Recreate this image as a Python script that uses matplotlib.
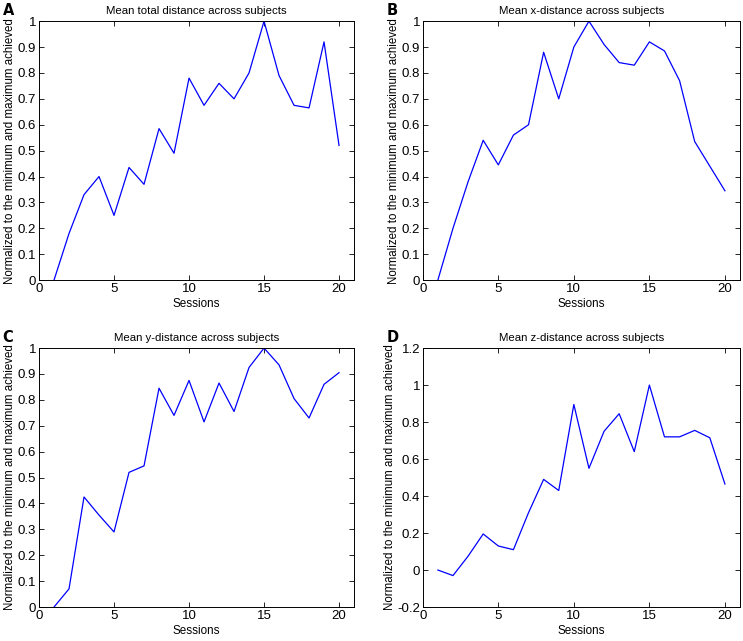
import matplotlib
matplotlib.use("Agg")
import matplotlib.pyplot as plt
import numpy

plt.rcParams['font.family'] = ['Liberation Sans', 'DejaVu Sans']

sessions = numpy.arange(1, 21)

total_dist = [0, 0.18, 0.33, 0.40, 0.25, 0.435, 0.37, 0.585, 0.49, 0.78,
              0.675, 0.76, 0.70, 0.80, 1.0, 0.79, 0.675, 0.665, 0.92, 0.52]
x_dist = [0, 0.2, 0.38, 0.54, 0.445, 0.56, 0.60, 0.88, 0.70, 0.90,
          1.0, 0.91, 0.84, 0.83, 0.92, 0.885, 0.77, 0.535, 0.44, 0.345]
y_dist = [0, 0.07, 0.425, 0.355, 0.29, 0.52, 0.545, 0.845, 0.74, 0.875,
          0.715, 0.865, 0.755, 0.925, 1.0, 0.935, 0.805, 0.73, 0.86, 0.905]
z_dist = [0, -0.03, 0.075, 0.195, 0.13, 0.11, 0.31, 0.49, 0.43, 0.895,
          0.55, 0.75, 0.845, 0.64, 1.0, 0.72, 0.72, 0.755, 0.715, 0.465]

panels = [
    ("A", "Mean total distance across subjects", total_dist),
    ("B", "Mean x-distance across subjects", x_dist),
    ("C", "Mean y-distance across subjects", y_dist),
    ("D", "Mean z-distance across subjects", z_dist),
]

# axes rectangles in figure fractions (left, bottom, width, height)
rects = [
    (0.0525, 0.563, 0.424, 0.404),
    (0.569, 0.563, 0.427, 0.404),
    (0.0525, 0.053, 0.424, 0.404),
    (0.569, 0.053, 0.427, 0.404),
]

fig = plt.figure(figsize=(7.43, 6.41), dpi=100)

for (letter, title, values), rect in zip(panels, rects):
    ax = fig.add_axes(rect)
    ax.plot(sessions, values, color=(0, 0, 1), lw=0.9)
    ax.set_xlim(0, 21)
    ax.set_xticks([0, 5, 10, 15, 20])
    if letter == "D":
        ax.set_ylim(-0.2, 1.2)
        yt = numpy.round(numpy.arange(-0.2, 1.21, 0.2), 1)
    else:
        ax.set_ylim(0, 1)
        yt = numpy.round(numpy.arange(0, 1.01, 0.1), 1)
    ax.set_yticks(yt)
    ax.set_yticklabels(["%g" % v for v in yt])
    ax.tick_params(direction='in', top=True, right=True, labelsize=9.5, length=3.5, width=0.6, pad=2)
    for s in ax.spines.values():
        s.set_linewidth(0.7)
    ax.set_title(title, fontsize=8.2, pad=5)
    ax.set_xlabel("Sessions", fontsize=8.4, labelpad=2)
    ax.set_ylabel("Normalized to the minimum and maximum achieved", fontsize=8.3, labelpad=1)
    pos = ax.get_position()
    fig.text(pos.x0 - 0.049, pos.y1 + 0.005, letter, fontsize=10.5, fontweight='bold',
             family='DejaVu Sans', va='bottom', ha='left')

fig.savefig("out.png", dpi=100)
